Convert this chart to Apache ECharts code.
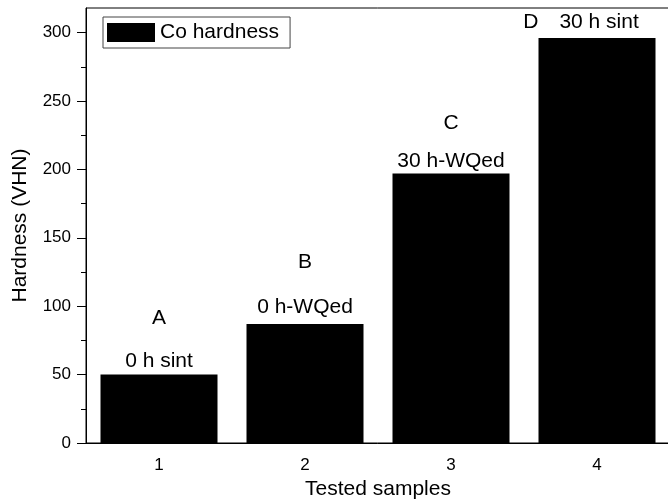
<!DOCTYPE html>
<html>
<head>
<meta charset="utf-8">
<script src="https://cdn.jsdelivr.net/npm/echarts@6/dist/echarts.min.js"></script>
<style>
  html, body { margin: 0; padding: 0; background: #fff; }
  #chart { width: 668px; height: 500px; }
</style>
</head>
<body>
<div id="chart"></div>
<script>
// data
const samples = ['1', '2', '3', '4']
const hardness = [50, 87, 197, 296]
const letters = ['A', 'B', 'C', 'D']
const conditions = ['0 h sint', '0 h-WQed', '30 h-WQed', '30 h sint']
const yTicks = [0, 50, 100, 150, 200, 250, 300]
const yMinorTicks = [25, 75, 125, 175, 225, 275]

// label layout (distance above bar, line height of the letter line)
const labelLayout = [
  { dist: 1, letterLine: 62 },
  { dist: 5, letterLine: 66 },
  { dist: 0, letterLine: 53 },
  { dist: 4, letterLine: 0 }
]

const font = 'Liberation Sans, Arial, sans-serif'
const black = '#000'

const barData = hardness.map((v, i) => {
  const lay = labelLayout[i]
  const oneLine = i === 3 // D sits next to its text
  return {
    value: v,
    label: {
      show: true,
      position: 'top',
      distance: lay.dist,
      offset: oneLine ? [-16, 0] : [0, 0],
      formatter: oneLine
        ? '{l|' + letters[i] + '}{t|' + conditions[i] + '}'
        : '{l|' + letters[i] + '}\n{t|' + conditions[i] + '}',
      rich: {
        l: {
          fontSize: 21, fontFamily: font, color: black,
          lineHeight: oneLine ? 24 : lay.letterLine,
          padding: oneLine ? [0, 21, 0, 0] : 0
        },
        t: { fontSize: 21, fontFamily: font, color: black, lineHeight: 24 }
      }
    }
  }
})

const chart = echarts.init(document.getElementById('chart'))
const option = {
  animation: false,
  backgroundColor: '#fff',
  textStyle: { fontFamily: font },
  grid: {
    left: 86,
    top: 8,
    width: 584,
    height: 435,
    outerBoundsMode: 'none',
    show: true,
    borderColor: black,
    borderWidth: 1
  },
  legend: {
    data: ['Co hardness'],
    left: 103,
    top: 17,
    icon: 'rect',
    itemWidth: 48,
    itemHeight: 19,
    padding: [5, 11, 5, 4],
    borderColor: '#444',
    borderWidth: 1,
    textStyle: { fontSize: 21, color: black, fontFamily: font }
  },
  xAxis: [
    {
      type: 'category',
      data: samples,
      boundaryGap: true,
      axisLine: { lineStyle: { color: black, width: 1 } },
      axisTick: { alignWithLabel: true, length: 9, lineStyle: { color: black } },
      axisLabel: { fontSize: 17, color: black, margin: 14, fontFamily: font },
      name: 'Tested samples',
      nameLocation: 'middle',
      nameGap: 36,
      nameTextStyle: { fontSize: 21, color: black, fontFamily: font }
    },
    {
      // boundary ticks between the samples
      type: 'category',
      data: samples,
      position: 'bottom',
      axisLine: { show: false },
      axisTick: { length: 5, lineStyle: { color: black } },
      axisLabel: { show: false }
    }
  ],
  yAxis: [
    {
      type: 'value',
      min: 0,
      max: 318,
      splitLine: { show: false },
      axisLine: { show: true, lineStyle: { color: black, width: 1 } },
      axisTick: { show: true, length: 9, customValues: yTicks, lineStyle: { color: black } },
      axisLabel: { customValues: yTicks, fontSize: 17, color: black, margin: 15, fontFamily: font },
      name: 'Hardness (VHN)',
      nameLocation: 'middle',
      nameGap: 55,
      nameTextStyle: { fontSize: 21, color: black, fontFamily: font }
    },
    {
      type: 'value',
      min: 0,
      max: 318,
      position: 'left',
      splitLine: { show: false },
      axisLine: { show: false },
      axisTick: { show: true, length: 5, customValues: yMinorTicks, lineStyle: { color: black } },
      axisLabel: { show: false }
    }
  ],
  series: [
    {
      name: 'Co hardness',
      type: 'bar',
      xAxisIndex: 0,
      yAxisIndex: 0,
      barWidth: 117,
      itemStyle: { color: black },
      data: barData
    }
  ]
}
chart.setOption(option)
</script>
</body>
</html>
